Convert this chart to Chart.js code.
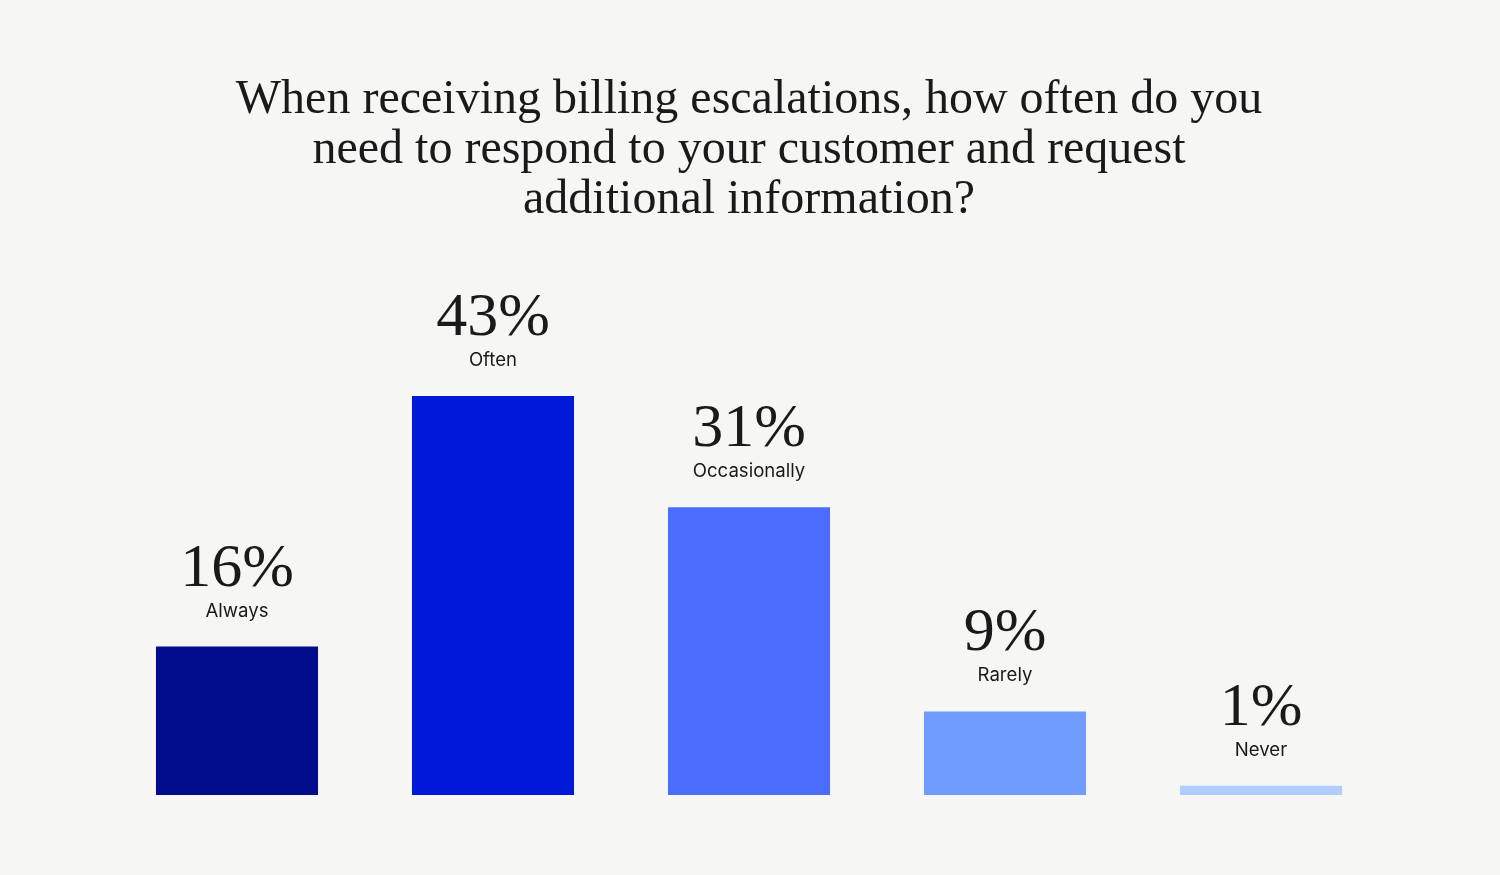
<!DOCTYPE html>
<html>
<head>
<meta charset="utf-8">
<script src="https://cdn.jsdelivr.net/npm/chart.js@4/dist/chart.umd.min.js"></script>
<style>
  html, body { margin: 0; padding: 0; background: #f6f6f4; }
  #wrap { width: 1500px; height: 875px; }
</style>
</head>
<body>
<div id="wrap"><canvas id="survey-chart" width="1500" height="875"></canvas></div>
<script>
const categories = ['Always', 'Often', 'Occasionally', 'Rarely', 'Never'];
const shares = [16, 43, 31, 9, 1];
const barColors = ['#000c8c', '#0018d8', '#4a6cff', '#709bff', '#b0cdff'];
const titleLines = [
    'When receiving billing escalations, how often do you',
    'need to respond to your customer and request',
    'additional information?'
];

// value + category text above every bar
const barLabels = {
    id: 'barLabels',
    afterDatasetsDraw(chart) {
        const ctx = chart.ctx;
        const meta = chart.getDatasetMeta(0);
        ctx.save();
        ctx.textAlign = 'center';
        ctx.textBaseline = 'alphabetic';
        ctx.fillStyle = '#1a1a1a';
        meta.data.forEach(function (bar, i) {
            ctx.font = '62px "Liberation Serif", serif';
            ctx.fillText(shares[i] + '%', bar.x, bar.y - 61);
            ctx.font = '18.6px Inter, "Noto Sans", sans-serif';
            ctx.fillText(categories[i], bar.x, bar.y - 30);
        });
        ctx.restore();
    }
};

new Chart(document.getElementById('survey-chart').getContext('2d'), {
    type: 'bar',
    data: {
        labels: categories,
        datasets: [{
            data: shares,
            backgroundColor: barColors,
            borderWidth: 0,
            barPercentage: 0.633,
            categoryPercentage: 1
        }]
    },
    options: {
        responsive: false,
        animation: false,
        layout: { padding: { left: 109, right: 111, top: 0, bottom: 80 } },
        scales: {
            x: { display: false },
            y: { display: false, min: 0, max: 50 }
        },
        plugins: {
            legend: { display: false },
            tooltip: { enabled: false },
            title: {
                display: true,
                text: titleLines,
                color: '#1a1a1a',
                font: { family: '"Liberation Serif", serif', size: 48, weight: 'normal', lineHeight: 1.042 },
                padding: { top: 75, bottom: 106 }
            }
        }
    },
    plugins: [barLabels]
});
</script>
</body>
</html>
